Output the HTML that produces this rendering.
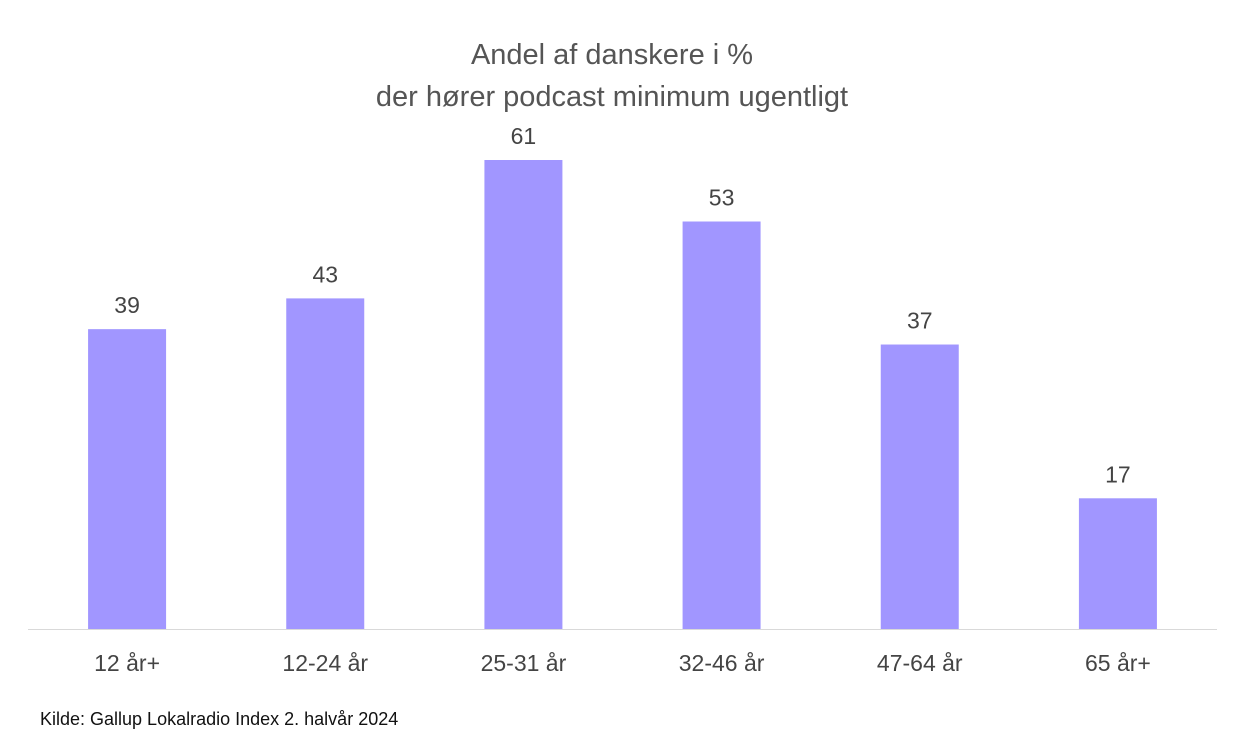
<!DOCTYPE html>
<html><head><meta charset="utf-8"><style>
body{margin:0;background:#fff;font-family:"Liberation Sans",sans-serif}
svg text{font-family:"Liberation Sans",sans-serif}
</style></head><body>
<svg width="1240" height="747" viewBox="0 0 1240 747">
<text x="612" y="64" text-anchor="middle" font-size="29" fill="#555">Andel af danskere i %</text>
<text x="612" y="106" text-anchor="middle" font-size="29" fill="#555">der hører podcast minimum ugentligt</text>
<line x1="28" y1="629.5" x2="1217" y2="629.5" stroke="#d9d9d9" stroke-width="1"/>
<g id="bars"></g>
<text x="40" y="725" font-size="18" fill="#111">Kilde: Gallup Lokalradio Index 2. halvår 2024</text>
</svg>
<script>
const categories=["12 år+","12-24 år","25-31 år","32-46 år","47-64 år","65 år+"];
const values=[39,43,61,53,37,17];
const g=document.getElementById('bars');
const ns='http://www.w3.org/2000/svg';
const left=28,right=1217,base=629,scale=469/61;
const band=(right-left)/categories.length,bw=78;
function xC(i){return left+band*(i+0.5);}
function yV(v){return base-v*scale;}
categories.forEach((c,i)=>{
const r=document.createElementNS(ns,'rect');
r.setAttribute('x',xC(i)-bw/2);r.setAttribute('y',yV(values[i]));
r.setAttribute('width',bw);r.setAttribute('height',base-yV(values[i]));
r.setAttribute('fill','#a196ff');


g.appendChild(r);
const t=document.createElementNS(ns,'text');
t.setAttribute('x',xC(i));t.setAttribute('y',yV(values[i])-16);
t.setAttribute('text-anchor','middle');t.setAttribute('font-size','23');t.setAttribute('fill','#444');
t.textContent=values[i];


g.appendChild(t);
const l=document.createElementNS(ns,'text');
l.setAttribute('x',xC(i));l.setAttribute('y',671);
l.setAttribute('text-anchor','middle');l.setAttribute('font-size','23');l.setAttribute('fill','#444');
l.textContent=c;


g.appendChild(l);
});
</script>
</body></html>
